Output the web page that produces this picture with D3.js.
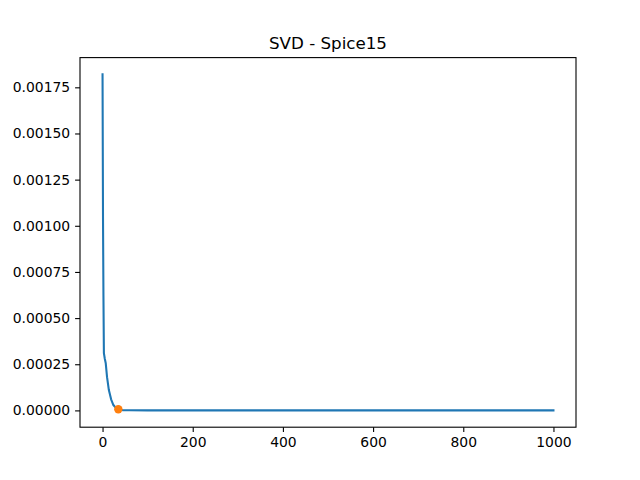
<!DOCTYPE html>
<meta charset="utf-8">
<body style="margin:0;background:#fff">

<svg width='640' height='480'></svg>

<script src="https://d3js.org/d3.v7.min.js"></script>
<script>

// singular values (index, value)
var idx = [0, 1, 2, 3, 5, 7, 10, 14, 19, 24, 30, 35, 40, 45, 60, 100, 200, 400, 600, 800, 1000];
var vals = [0.00182, 0.00105, 0.00062, 0.00031, 0.00028, 0.000257, 0.00018, 0.00011, 0.00006, 0.000029, 0.000012, 0.000006, 0.000003, 0.000001, 0.0000005, 0.0000002, 0.0000001, 0.00000005, 0.00000003, 0.00000002, 0.00000001];
var knee = [35, 0.000006];
var yTicks = [0, 0.00025, 0.0005, 0.00075, 0.001, 0.00125, 0.0015, 0.00175];
var xTicks = [0, 200, 400, 600, 800, 1000];
var title = 'SVD - Spice15';

var svg = d3.select('svg');
var mLeft = 80, mRight = 576, mTop = 57.6, mBottom = 427.2;

var xmin = 0, xmax = 1000, xpad = (xmax - xmin) * 0.05;
var ymax = d3.max(vals), ypad = ymax * 0.05;

var x = d3.scaleLinear().domain([xmin - xpad, xmax + xpad]).range([mLeft, mRight]);
var y = d3.scaleLinear().domain([0 - ypad, ymax + ypad]).range([mBottom, mTop]);

var font = 'DejaVu Sans, sans-serif';

svg.append('g')
	.attr('transform', 'translate(0,' + mBottom + ')')
	.call(d3.axisBottom(x).tickValues(xTicks).tickSize(4.9).tickPadding(4.9).tickFormat(d3.format('d')))
	.call(g => g.select('.domain').remove())
	.call(g => g.selectAll('text').attr('font-size', 13.9).attr('font-family', font).attr('fill', '#000'))
	.call(g => g.selectAll('line').attr('stroke', '#000').attr('stroke-width', 1.1));

svg.append('g')
	.attr('transform', 'translate(' + mLeft + ',0)')
	.call(d3.axisLeft(y).tickValues(yTicks).tickSize(4.9).tickPadding(4.9).tickFormat(d3.format('.5f')))
	.call(g => g.select('.domain').remove())
	.call(g => g.selectAll('text').attr('font-size', 13.9).attr('font-family', font).attr('fill', '#000'))
	.call(g => g.selectAll('line').attr('stroke', '#000').attr('stroke-width', 1.1));

var line = d3.line()
	.x(function(d, i) { return x(idx[i]); })
	.y(function(d) { return y(d); });

svg.append('path')
	.attr('d', line(vals))
	.attr('fill', 'none')
	.attr('stroke', '#1f77b4')
	.attr('stroke-width', 2.08)
	.attr('stroke-linejoin', 'round')
	.attr('stroke-linecap', 'square');

svg.append('circle')
	.attr('cx', x(knee[0]))
	.attr('cy', y(knee[1]))
	.attr('r', 4.2)
	.attr('fill', '#ff7f0e');

// frame
svg.append('rect')
	.attr('x', mLeft).attr('y', mTop)
	.attr('width', mRight - mLeft).attr('height', mBottom - mTop)
	.attr('fill', 'none')
	.attr('stroke', '#000')
	.attr('stroke-width', 1.1);

svg.append('text')
	.attr('x', (mLeft + mRight) / 2)
	.attr('y', mTop - 8.3)
	.attr('text-anchor', 'middle')
	.attr('font-size', 16.7)
	.attr('font-family', font)
	.text(title);

</script>
